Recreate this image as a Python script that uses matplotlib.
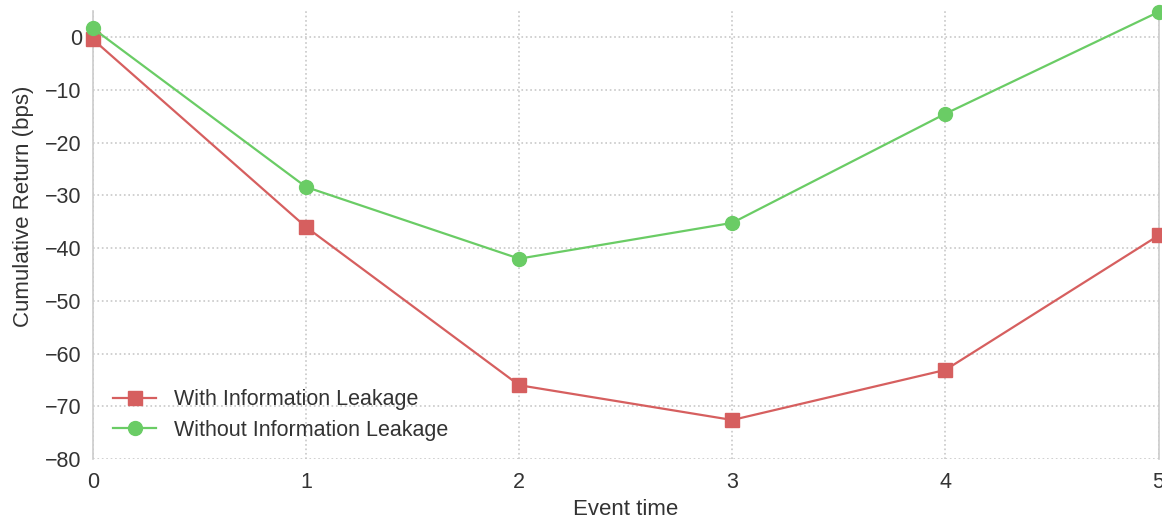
import matplotlib
matplotlib.use("Agg")
import matplotlib.pyplot as plt

event_time = [0, 1, 2, 3, 4, 5]
with_leakage = [-0.4, -36.0, -66.0, -72.6, -63.1, -37.6]
without_leakage = [1.7, -28.4, -42.0, -35.2, -14.5, 4.8]
yticks = [0, -10, -20, -30, -40, -50, -60, -70, -80]

plt.rcParams['font.family'] = ['Liberation Sans', 'DejaVu Sans']

fig = plt.figure(figsize=(11.62, 5.21), dpi=100)
ax = fig.add_axes([0.080, 0.119, 0.917, 0.860])

red = '#d65f5f'
green = '#6acc65'

ax.plot(event_time, with_leakage, color=red, marker='s', markersize=10.5,
        linewidth=1.6, label='With Information Leakage', clip_on=False, zorder=3)
ax.plot(event_time, without_leakage, color=green, marker='o', markersize=10,
        linewidth=1.6, label='Without Information Leakage', clip_on=False, zorder=3)

ax.set_xlim(0, 5)
ax.set_ylim(-80, 5)
ax.set_xticks(event_time)
ax.set_yticks(yticks)
ax.grid(True, linestyle=':', color='#c8c8c8', linewidth=1.2)
ax.set_axisbelow(True)

for s in ['top', 'bottom']:
    ax.spines[s].set_visible(False)
for s in ['left', 'right']:
    ax.spines[s].set_color('#cccccc')
    ax.spines[s].set_linewidth(1.2)

ax.tick_params(axis='both', length=0, labelsize=15.5, colors='#333333')
ax.tick_params(axis='x', pad=9)
ax.tick_params(axis='y', pad=8)
ax.set_xlabel('Event time', fontsize=16, color='#333333', labelpad=4.5)
ax.set_ylabel('Cumulative Return (bps)', fontsize=16, color='#333333')
ax.yaxis.set_label_coords(-0.055, 0.565)

leg = ax.legend(loc='lower left', bbox_to_anchor=(0.001, -0.003), frameon=False,
                fontsize=15.5, handlelength=2.0, labelspacing=0.45, handletextpad=0.8)
for t in leg.get_texts():
    t.set_color('#333333')

fig.savefig('out.png', dpi=100)
